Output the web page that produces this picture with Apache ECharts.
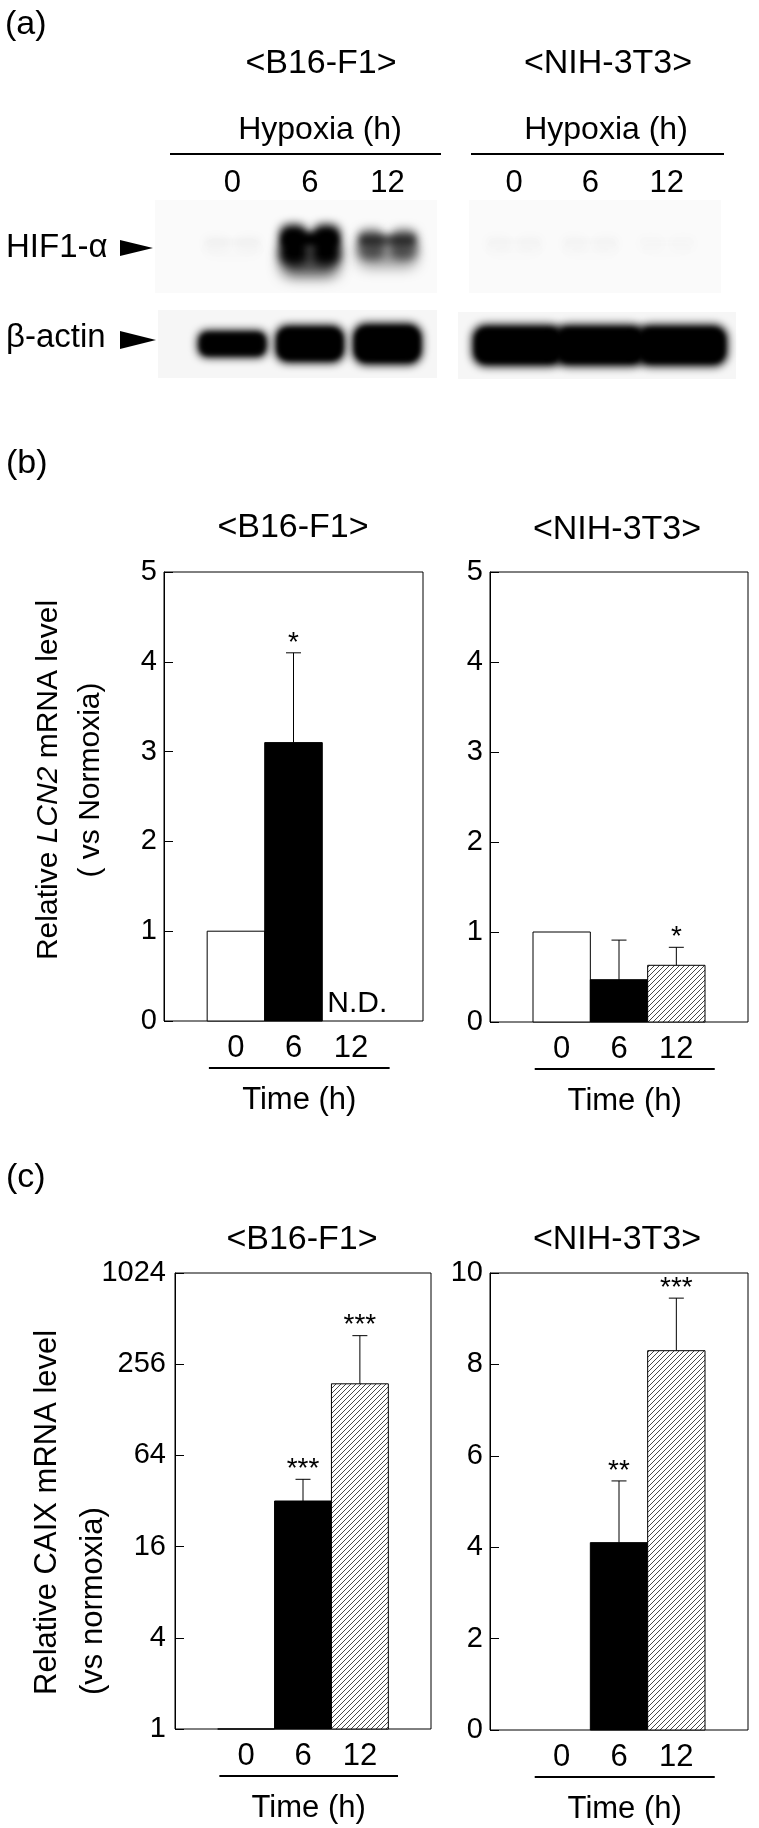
<!DOCTYPE html>
<html><head><meta charset="utf-8">
<script src="https://cdn.jsdelivr.net/npm/echarts@6/dist/echarts.min.js"></script>
<style>html,body{margin:0;padding:0;background:#fff}#c{width:759px;height:1828px}</style>
</head><body><div id="c"></div>
<script>
// ---------- data ----------
// (a) western blot, relative band intensity (0..1) per lane
const laneLabels = ['0', '6', '12'];
const hifB16 = [0.02, 1.0, 0.55];
const hifNIH = [0.015, 0.015, 0.01];
const actinB16 = [0.8, 0.95, 1.0];
const actinNIH = [1.0, 1.0, 1.0];

// (b) relative LCN2 mRNA level
const timeLabels = ['0', '6', '12'];
const lcn2B16 = [1, 3.1, null];
const lcn2B16Err = [0, 1.0, 0];
const lcn2B16Sig = ['', '*', ''];
const lcn2NIH = [1, 0.47, 0.63];
const lcn2NIHErr = [0, 0.44, 0.2];
const lcn2NIHSig = ['', '', '*'];

// (c) relative CAIX mRNA level
const caixB16 = [1, 32, 190];
const caixB16Err = [0, 12.5, 205];
const caixB16Sig = ['', '***', '***'];
const caixNIH = [null, 4.1, 8.3];
const caixNIHErr = [0, 1.35, 1.15];
const caixNIHSig = ['', '**', '***'];

// ---------- helpers ----------
const F = "'Liberation Sans', Arial, Helvetica, sans-serif";
function hatchCanvas() {
  const c = document.createElement('canvas'); c.width = 5; c.height = 5;
  const x = c.getContext('2d');
  x.fillStyle = '#fff'; x.fillRect(0, 0, 5, 5);
  x.strokeStyle = '#333'; x.lineWidth = 0.9;
  x.beginPath();
  x.moveTo(0, 5); x.lineTo(5, 0);
  x.moveTo(-1, 1); x.lineTo(1, -1);
  x.moveTo(4, 6); x.lineTo(6, 4);
  x.stroke();
  return c;
}
const HATCH = { image: hatchCanvas(), repeat: 'repeat' };
const k = a => 'rgba(0,0,0,' + a + ')';
const OFF = 3000;
// soft (blurred) blob: only the shadow of an off-screen rect is visible
function blob(x, y, w, h, alpha, blur) {
  return { type: 'rect', shape: { x: x - OFF, y: y, width: w, height: h, r: Math.min(w, h) / 3 },
    style: { fill: '#000', shadowBlur: blur, shadowColor: k(alpha), shadowOffsetX: OFF, shadowOffsetY: 0 } };
}

function txt(x, y, text, size, align, valign, extra) {
  return Object.assign({ type: 'text', x: x, y: y, silent: true,
    style: { text: text, fontSize: size, fontFamily: F, fill: '#000',
      align: align || 'center', verticalAlign: valign || 'middle' } }, extra || {});
}

function blotSeries(g, vals, kind, widthFrac, withLabels) {
  return {
    type: 'custom', xAxisIndex: g, yAxisIndex: g, clip: false, silent: true,
    data: vals.map((v, i) => [i, v]), encode: { x: 0, y: 1 },
    renderItem: (p, api) => {
      const lane = api.value(0), v = api.value(1);
      const c = api.coord([lane, 0.5]);
      const lw = api.coord([lane + 0.5, 0.5])[0] - api.coord([lane - 0.5, 0.5])[0];
      const w = lw * widthFrac;
      const els = [];
      if (kind === 'hif') {
        const top = c[1] - 12 - 10 * v, h = 18 + 22 * v;
        els.push(blob(c[0] - w * 0.44, c[1] - 4, w * 0.88, 14 + 20 * v, 0.7 * v, 14));
        els.push(blob(c[0] - w * 0.46, top, w * 0.42, h, v, 10));
        els.push(blob(c[0] + w * 0.04, top, w * 0.42, h, v, 10));
        els.push(blob(c[0] - w * 0.42, top + h * 0.2, w * 0.84, h * 0.35, v, 6));
      } else {
        const h = 42 * v * v;
        els.push(blob(c[0] - w / 2, c[1] - h / 2, w, h, 1, 9));
        els.push(blob(c[0] - w * 0.46, c[1] - h * 0.4, w * 0.92, h * 0.8, Math.min(1, v + 0.1), 5));
      }
      if (withLabels) {
        const gt = api.coord([lane, 1])[1];
        els.push(txt(c[0], gt - 17, laneLabels[lane], 31));
      }
      return { type: 'group', children: els };
    }
  };
}

function barSeries(g, means, errs, sigs, yMin, showND) {
  return {
    type: 'custom', xAxisIndex: g, yAxisIndex: g, clip: false, silent: true,
    data: means.map((v, i) => [i, v == null ? yMin : v, errs[i], v == null ? 1 : 0]),
    encode: { x: 0, y: 1 },
    renderItem: (p, api) => {
      const i = api.value(0), v = api.value(1), e = api.value(2), missing = api.value(3);
      const base = api.coord([i, yMin]);
      const l = api.coord([i - 0.5, yMin])[0], r = api.coord([i + 0.5, yMin])[0];
      const els = [];
      if (missing) {
        if (showND) els.push(txt(l + 5, base[1] - 2, 'N.D.', 30, 'left', 'bottom'));
        return { type: 'group', children: els };
      }
      const top = api.coord([i, v])[1];
      const fill = i === 0 ? '#fff' : (i === 1 ? '#000' : HATCH);
      els.push({ type: 'rect', shape: { x: l, y: top, width: r - l, height: base[1] - top },
        style: { fill: fill, stroke: '#000', lineWidth: 1 } });
      let markY = top;
      if (e > 0) {
        const et = api.coord([i, v + e])[1];
        els.push({ type: 'line', shape: { x1: base[0], y1: top, x2: base[0], y2: et }, style: { stroke: '#000', lineWidth: 1 } });
        els.push({ type: 'line', shape: { x1: base[0] - 7.5, y1: et, x2: base[0] + 7.5, y2: et }, style: { stroke: '#000', lineWidth: 1 } });
        markY = et;
      }
      if (sigs[i]) els.push(txt(base[0], markY - 10, sigs[i], 28));
      return { type: 'group', children: els };
    }
  };
}

function labelSeries(g, yMin) {
  return {
    type: 'custom', xAxisIndex: g, yAxisIndex: g, clip: false, silent: true,
    data: timeLabels.map((t, i) => [i, yMin]), encode: { x: 0, y: 1 },
    renderItem: (p, api) => {
      const i = api.value(0);
      const z = api.coord([i, yMin]);
      const els = [txt(z[0], z[1] + 27, timeLabels[i], 31)];
      if (i === 0) {
        const a = api.coord([-0.47, yMin]), b = api.coord([2.67, yMin]);
        els.push({ type: 'line', shape: { x1: a[0], y1: a[1] + 47, x2: b[0], y2: a[1] + 47 }, style: { stroke: '#000', lineWidth: 2.2 } });
        els.push(txt((a[0] + b[0]) / 2, a[1] + 79, 'Time (h)', 31));
      }
      return { type: 'group', children: els };
    }
  };
}

// ---------- layout ----------
const grids = [
  { left: 155, top: 200, width: 282, height: 93 },   // 0 HIF B16
  { left: 158, top: 310, width: 279, height: 68 },   // 1 actin B16
  { left: 469, top: 200, width: 252, height: 93 },   // 2 HIF NIH
  { left: 458, top: 312, width: 278, height: 67 },   // 3 actin NIH
  { left: 164, top: 572, width: 259, height: 449 },  // 4 b B16
  { left: 490, top: 572, width: 258, height: 450 },  // 5 b NIH
  { left: 175, top: 1273, width: 256, height: 456 }, // 6 c B16
  { left: 490, top: 1273, width: 258, height: 457 }  // 7 c NIH
].map((g, i) => Object.assign({ show: true, borderWidth: i < 4 ? 0 : 1, borderColor: '#000',
  backgroundColor: i < 4 ? (i % 2 ? '#f6f6f6' : '#fafafa') : 'transparent', containLabel: false }, g));

const blotX = [[-1, 2.64], [-0.96, 2.64], [-0.59, 2.71], [-0.73, 2.66]];
const xAxes = [];
const yAxes = [];
for (let i = 0; i < 8; i++) {
  const ext = i < 4 ? blotX[i] : [-1.25, 3.25];
  xAxes.push({ gridIndex: i, type: 'value', min: ext[0], max: ext[1], show: false });
}
for (let i = 0; i < 4; i++) yAxes.push({ gridIndex: i, type: 'value', min: 0, max: 1, show: false });
const yCommon = {
  axisLine: { show: true, onZero: false, lineStyle: { color: '#000', width: 1 } },
  axisTick: { show: true, inside: true, length: 9, lineStyle: { color: '#000', width: 1 } },
  axisLabel: { fontSize: 29, fontFamily: F, color: '#000', margin: 7 },
  splitLine: { show: false }
};
yAxes.push(Object.assign({ gridIndex: 4, type: 'value', min: 0, max: 5, interval: 1 }, yCommon));
yAxes.push(Object.assign({ gridIndex: 5, type: 'value', min: 0, max: 5, interval: 1 }, yCommon));
yAxes.push(Object.assign({ gridIndex: 6, type: 'log', logBase: 4, min: 1, max: 1024, splitNumber: 5 }, yCommon,
  { axisLabel: Object.assign({}, yCommon.axisLabel, { margin: 9, formatter: v => String(Math.round(v)) }) }));
yAxes.push(Object.assign({ gridIndex: 7, type: 'value', min: 0, max: 10, interval: 2 }, yCommon));

const graphics = [
  txt(5, 8, '(a)', 34, 'left', 'top'),
  txt(321, 64, '<B16-F1>', 34), txt(608, 64, '<NIH-3T3>', 34),
  txt(320, 130, 'Hypoxia (h)', 32), txt(606, 130, 'Hypoxia (h)', 32),
  { type: 'line', shape: { x1: 170, y1: 154, x2: 441, y2: 154 }, style: { stroke: '#000', lineWidth: 2 } },
  { type: 'line', shape: { x1: 471, y1: 154, x2: 724, y2: 154 }, style: { stroke: '#000', lineWidth: 2 } },
  txt(6, 248, 'HIF1-α', 33, 'left'),
  { type: 'polygon', shape: { points: [[120, 240], [153, 248], [120, 256]] }, style: { fill: '#000' } },
  txt(6, 338, 'β-actin', 33, 'left'),
  { type: 'polygon', shape: { points: [[120, 331], [156, 340], [120, 349]] }, style: { fill: '#000' } },
  txt(6, 447, '(b)', 34, 'left', 'top'),
  txt(293, 528, '<B16-F1>', 34), txt(617, 530, '<NIH-3T3>', 34),
  txt(6, 1161, '(c)', 34, 'left', 'top'),
  txt(302, 1240, '<B16-F1>', 34), txt(617, 1240, '<NIH-3T3>', 34),
  { type: 'text', x: 70, y: 780, rotation: Math.PI / 2, silent: true,
    style: { text: '{n|Relative }{i|LCN2}{n| mRNA level}\n{n|( vs Normoxia)}', align: 'center', verticalAlign: 'middle',
      rich: { n: { fontSize: 30, fontFamily: F, fill: '#000', lineHeight: 42 },
              i: { fontSize: 30, fontFamily: F, fill: '#000', fontStyle: 'italic', lineHeight: 42 } } } },
  { type: 'text', x: 70, y: 1695, rotation: Math.PI / 2, silent: true,
    style: { text: '{n|Relative CAIX mRNA level}\n{n|(vs normoxia)}', align: 'left', verticalAlign: 'middle',
      rich: { n: { fontSize: 31, fontFamily: F, fill: '#000', lineHeight: 46 } } } }
];

const chart = echarts.init(document.getElementById('c'), null, { renderer: 'canvas' });
chart.setOption({
  animation: false,
  backgroundColor: '#fff',
  grid: grids,
  xAxis: xAxes,
  yAxis: yAxes,
  graphic: { elements: graphics },
  series: [
    blotSeries(0, hifB16, 'hif', 0.85, true),
    blotSeries(1, actinB16, 'actin', 0.9, false),
    blotSeries(2, hifNIH, 'hif', 0.85, true),
    blotSeries(3, actinNIH, 'actin', 1.12, false),
    barSeries(4, lcn2B16, lcn2B16Err, lcn2B16Sig, 0, true),
    labelSeries(4, 0),
    barSeries(5, lcn2NIH, lcn2NIHErr, lcn2NIHSig, 0, false),
    labelSeries(5, 0),
    barSeries(6, caixB16, caixB16Err, caixB16Sig, 1, false),
    labelSeries(6, 1),
    barSeries(7, caixNIH, caixNIHErr, caixNIHSig, 0, false),
    labelSeries(7, 0)
  ]
});
</script></body></html>
